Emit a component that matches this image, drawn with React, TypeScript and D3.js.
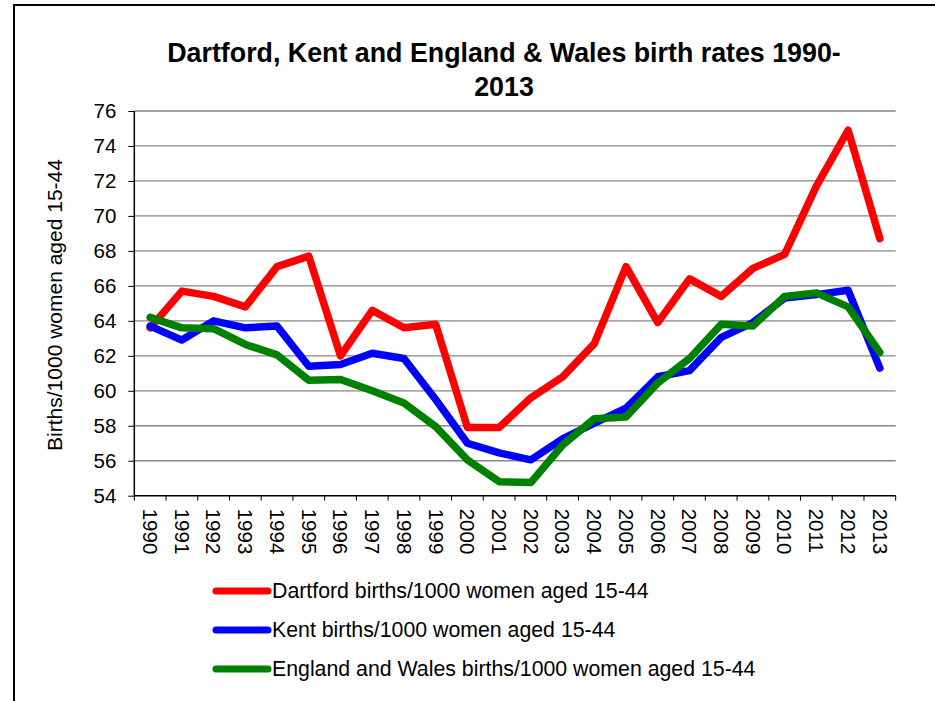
import React, { useEffect, useRef } from 'react';
import * as d3 from 'd3';

const years = ['1990', '1991', '1992', '1993', '1994', '1995', '1996', '1997', '1998', '1999', '2000', '2001',
    '2002', '2003', '2004', '2005', '2006', '2007', '2008', '2009', '2010', '2011', '2012', '2013'];
const dartford = [63.6, 65.7, 65.4, 64.8, 67.1, 67.7, 62.0, 64.6, 63.6, 63.8, 57.9, 57.9,
    59.6, 60.8, 62.7, 67.1, 63.9, 66.4, 65.4, 67.0, 67.8, 71.7, 74.9, 68.7];
const kent = [63.7, 62.9, 64.0, 63.6, 63.7, 61.4, 61.5, 62.15, 61.85, 59.5, 57.0, 56.45,
    56.05, 57.25, 58.15, 59.0, 60.8, 61.15, 63.05, 63.9, 65.3, 65.5, 65.75, 61.3];
const englandWales = [64.2, 63.6, 63.55, 62.65, 62.05, 60.6, 60.65, 60.0, 59.3, 57.95, 56.05, 54.8,
    54.75, 56.9, 58.4, 58.5, 60.45, 61.85, 63.8, 63.7, 65.4, 65.6, 64.8, 62.2];
const yTicks = [54, 56, 58, 60, 62, 64, 66, 68, 70, 72, 74, 76];
const seriesNames = [
    'Dartford births/1000 women aged 15-44',
    'Kent births/1000 women aged 15-44',
    'England and Wales births/1000 women aged 15-44',
];
const seriesColors = ['#ff0000', '#0000ff', '#008000'];

const width = 935;
const height = 701;
const plot = { left: 134.3, right: 895.7, top: 111, bottom: 495.7 };
const font = '"Liberation Sans", Arial, sans-serif';

export default function App() {
    const ref = useRef<SVGSVGElement>(null);

    useEffect(() => {
        const svg = d3.select(ref.current);
        svg.selectAll('*').remove();

        const x = d3.scaleBand().domain(years).range([plot.left, plot.right]);
        const y = d3.scaleLinear().domain([54, 76]).range([plot.bottom, plot.top]);

        // outer frame, cut off on the right and bottom like the original
        svg.append('rect')
            .attr('x', 14).attr('y', 5)
            .attr('width', 1000).attr('height', 800)
            .attr('fill', 'none').attr('stroke', '#000').attr('stroke-width', 2);

        // title
        const title = svg.append('text')
            .attr('text-anchor', 'middle')
            .style('font-family', font)
            .style('font-weight', 'bold')
            .style('font-size', '26.8px');
        title.append('tspan').attr('x', 504).attr('y', 62).text('Dartford, Kent and England & Wales birth rates 1990-');
        title.append('tspan').attr('x', 504).attr('y', 96).text('2013');

        // gridlines
        svg.append('g')
            .selectAll('line')
            .data(yTicks.filter((t) => t !== 54))
            .enter()
            .append('line')
            .attr('x1', plot.left).attr('x2', plot.right)
            .attr('y1', (d) => y(d)).attr('y2', (d) => y(d))
            .attr('stroke', '#868686').attr('stroke-width', 1.3);

        // y axis
        const yAxis = svg.append('g')
            .attr('transform', `translate(${plot.left},0)`)
            .call(d3.axisLeft(y).tickValues(yTicks).tickSize(6).tickPadding(12).tickFormat(d3.format('d')));
        yAxis.select('.domain').attr('stroke', '#000').attr('stroke-width', 1.5).attr('d', `M0,${plot.top}V${plot.bottom}`);
        yAxis.selectAll('.tick line').attr('stroke', '#000').attr('stroke-width', 1);
        yAxis.selectAll('.tick text')
            .style('font-family', font).style('font-size', '20.5px').attr('fill', '#000');

        // x axis
        const xAxis = svg.append('g')
            .attr('transform', `translate(0,${plot.bottom})`);
        xAxis.append('line')
            .attr('x1', plot.left).attr('x2', plot.right)
            .attr('stroke', '#000').attr('stroke-width', 1.5);
        const bounds = years.map((yr) => x(yr) as number).concat([plot.right]);
        xAxis.selectAll('.xt')
            .data(bounds)
            .enter()
            .append('line')
            .attr('x1', (d) => d).attr('x2', (d) => d)
            .attr('y1', 0).attr('y2', 5)
            .attr('stroke', '#000').attr('stroke-width', 1);
        xAxis.selectAll('.xl')
            .data(years)
            .enter()
            .append('text')
            .attr('transform', (d) => `translate(${(x(d) as number) + x.bandwidth() / 2},13) rotate(90)`)
            .attr('dy', '0.35em')
            .style('font-family', font).style('font-size', '20.5px')
            .text((d) => d);

        // y axis title
        svg.append('text')
            .attr('transform', 'translate(55,305) rotate(-90)')
            .attr('text-anchor', 'middle')
            .attr('dy', '0.35em')
            .style('font-family', font).style('font-size', '21px')
            .text('Births/1000 women aged 15-44');

        // series
        const line = d3.line<number>()
            .x((_, i) => (x(years[i]) as number) + x.bandwidth() / 2)
            .y((d) => y(d));
        [dartford, kent, englandWales].forEach((vals, i) => {
            svg.append('path')
                .attr('d', line(vals) as string)
                .attr('fill', 'none')
                .attr('stroke', seriesColors[i])
                .attr('stroke-width', 7.5)
                .attr('stroke-linejoin', 'round')
                .attr('stroke-linecap', 'round');
        });

        // legend
        const legend = svg.append('g');
        seriesNames.forEach((name, i) => {
            const ly = 591 + i * 39;
            legend.append('line')
                .attr('x1', 216).attr('x2', 268)
                .attr('y1', ly).attr('y2', ly)
                .attr('stroke', seriesColors[i])
                .attr('stroke-width', 7)
                .attr('stroke-linecap', 'round');
            legend.append('text')
                .attr('x', 272).attr('y', ly)
                .attr('dy', '0.35em')
                .style('font-family', font).style('font-size', '21.3px')
                .text(name);
        });
    }, []);

    return (
        <svg
            ref={ref}
            width={width}
            height={height}
            style={{ position: 'absolute', left: 0, top: 0, background: '#fff' }}
        />
    );
}
